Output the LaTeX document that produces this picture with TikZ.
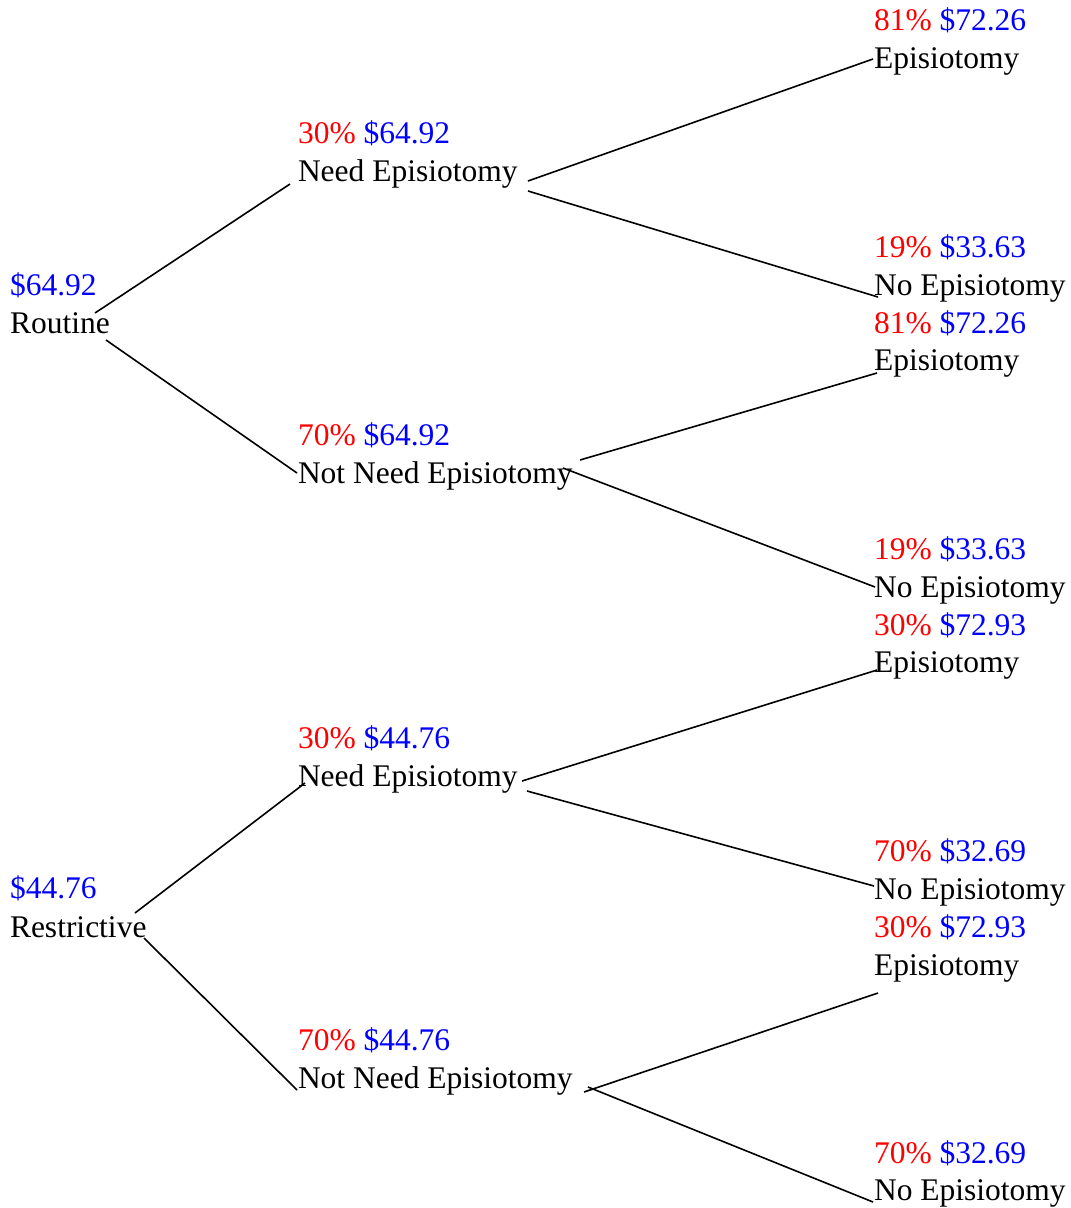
\documentclass[tikz,border=0pt]{standalone}
\usepackage{fontspec}
\setmainfont{Liberation Serif}
\definecolor{pr}{RGB}{255,0,0}
\definecolor{pb}{RGB}{0,0,255}
\begin{document}
\begin{tikzpicture}[x=1pt,y=-1pt,
  lbl/.style={anchor=base west, inner sep=0pt, outer sep=0pt, font=\fontsize{31.5}{38}\selectfont},
  edge/.style={line width=1.6pt, black}]
\useasboundingbox (0,0) rectangle (1071,1208);
% left column
\node[lbl] (rv) at (10,295) {\textcolor{pb}{\$64.92}};
\node[lbl] (routine) at (10,333) {Routine};
\node[lbl] (sv) at (10,898) {\textcolor{pb}{\$44.76}};
\node[lbl] (restrictive) at (10,937) {Restrictive};
% middle column
\node[lbl] (m1v) at (298,143) {\textcolor{pr}{30\%} \textcolor{pb}{\$64.92}};
\node[lbl] (m1) at (298,181) {Need Episiotomy};
\node[lbl] (m2v) at (298,445) {\textcolor{pr}{70\%} \textcolor{pb}{\$64.92}};
\node[lbl] (m2) at (298,483) {Not Need Episiotomy};
\node[lbl] (m3v) at (298,748) {\textcolor{pr}{30\%} \textcolor{pb}{\$44.76}};
\node[lbl] (m3) at (298,786) {Need Episiotomy};
\node[lbl] (m4v) at (298,1050) {\textcolor{pr}{70\%} \textcolor{pb}{\$44.76}};
\node[lbl] (m4) at (298,1088) {Not Need Episiotomy};
% right column
\node[lbl] (r1v) at (874,30) {\textcolor{pr}{81\%} \textcolor{pb}{\$72.26}};
\node[lbl] (r1) at (874,68) {Episiotomy};
\node[lbl] (r2v) at (874,257) {\textcolor{pr}{19\%} \textcolor{pb}{\$33.63}};
\node[lbl] (r2) at (874,295) {No Episiotomy};
\node[lbl] (r3v) at (874,333) {\textcolor{pr}{81\%} \textcolor{pb}{\$72.26}};
\node[lbl] (r3) at (874,370) {Episiotomy};
\node[lbl] (r4v) at (874,559) {\textcolor{pr}{19\%} \textcolor{pb}{\$33.63}};
\node[lbl] (r4) at (874,597) {No Episiotomy};
\node[lbl] (r5v) at (874,635) {\textcolor{pr}{30\%} \textcolor{pb}{\$72.93}};
\node[lbl] (r5) at (874,672) {Episiotomy};
\node[lbl] (r6v) at (874,861) {\textcolor{pr}{70\%} \textcolor{pb}{\$32.69}};
\node[lbl] (r6) at (874,899) {No Episiotomy};
\node[lbl] (r7v) at (874,937) {\textcolor{pr}{30\%} \textcolor{pb}{\$72.93}};
\node[lbl] (r7) at (874,975) {Episiotomy};
\node[lbl] (r8v) at (874,1163) {\textcolor{pr}{70\%} \textcolor{pb}{\$32.69}};
\node[lbl] (r8) at (874,1200) {No Episiotomy};
% connector end points
\coordinate (a1s) at (95,313);   \coordinate (a1e) at (290,184);
\coordinate (a2s) at (106,340);  \coordinate (a2e) at (297,473);
\coordinate (b1s) at (528,181);  \coordinate (b1e) at (873,59);
\coordinate (b2s) at (528,191);  \coordinate (b2e) at (878,297);
\coordinate (c1s) at (580,460);  \coordinate (c1e) at (877,373);
\coordinate (c2s) at (563,468);  \coordinate (c2e) at (875,587);
\coordinate (d1s) at (135,913);  \coordinate (d1e) at (305,783);
\coordinate (d2s) at (144,938);  \coordinate (d2e) at (297,1090);
\coordinate (e1s) at (522,781);  \coordinate (e1e) at (877,670);
\coordinate (e2s) at (527,791);  \coordinate (e2e) at (874,886);
\coordinate (f1s) at (584,1092); \coordinate (f1e) at (878,993);
\coordinate (f2s) at (588,1087); \coordinate (f2e) at (873,1202);
\foreach \p in {a1,a2,b1,b2,c1,c2,d1,d2,e1,e2,f1,f2}
  \draw[edge] (\p s) -- (\p e);
\end{tikzpicture}
\end{document}
